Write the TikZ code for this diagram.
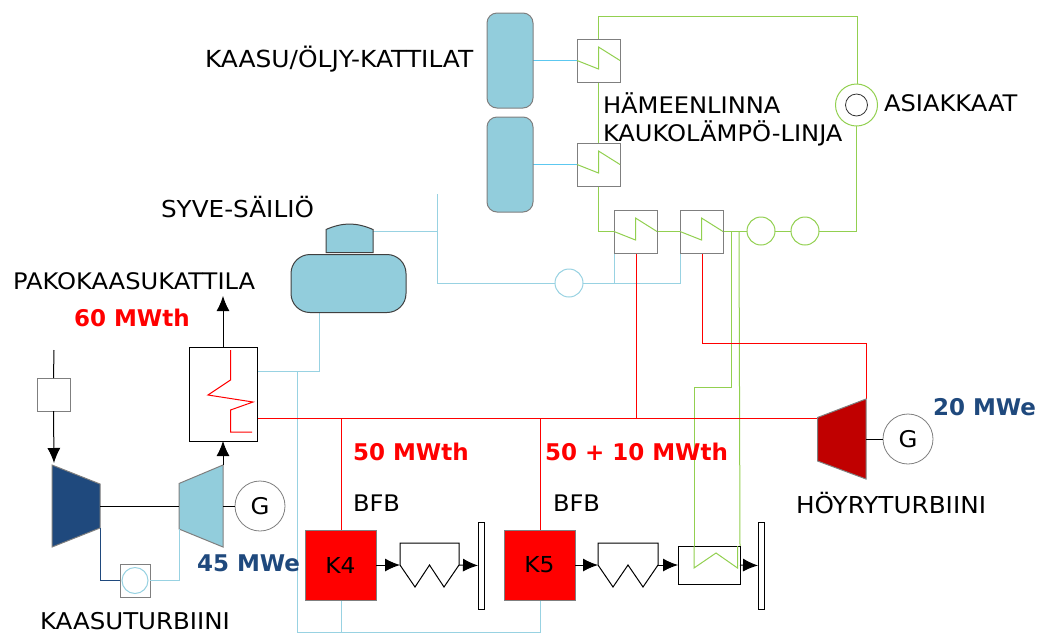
\documentclass[tikz,border=0pt]{standalone}
\usepackage{fontspec}
\setmainfont{DejaVu Sans}[FakeStretch=1.06]
\newfontfamily\lblbold{DejaVu Sans Bold}
\usetikzlibrary{arrows.meta,calc}
\definecolor{tankblue}{HTML}{92CDDC}
\definecolor{pipeblue}{HTML}{98D2E2}
\definecolor{brightblue}{HTML}{5CC8F0}
\definecolor{pipegreen}{HTML}{92D050}
\definecolor{navy}{HTML}{1F497D}
\definecolor{steam}{HTML}{FF0000}
\definecolor{darkred}{HTML}{C00000}
\definecolor{edge}{HTML}{7F7F7F}
\definecolor{darkedge}{HTML}{404040}
\tikzset{
 every node/.style={inner sep=0pt,outer sep=0pt},
 lbl/.style={anchor=west,font=\fontsize{22.8}{26}\selectfont,text=black},
 redlbl/.style={anchor=west,font=\fontsize{23}{26}\lblbold,text=steam},
 bluelbl/.style={anchor=west,font=\fontsize{23}{26}\lblbold,text=navy},
 hxbox/.style={draw=edge,line width=1pt,fill=white,minimum width=43pt,minimum height=43pt},
 gen/.style={circle,draw=edge,line width=.8pt,fill=white,minimum size=50pt,font=\fontsize{23}{28}\selectfont},
 tank/.style={draw=edge,line width=1pt,fill=tankblue,rounded corners=10pt,minimum width=46pt,minimum height=95pt},
 boiler/.style={draw=edge,line width=1pt,fill=steam,minimum width=71pt,minimum height=70pt,font=\fontsize{22}{28}\selectfont},
 gpipe/.style={draw=pipegreen,line width=1pt},
 bpipe/.style={draw=pipeblue,line width=1pt},
 rpipe/.style={draw=steam,line width=1pt},
 zig/.style={draw=pipegreen,line width=1pt},
 pump/.style={circle,fill=white,line width=1pt},
 flow/.style={draw=black,line width=1pt,-{Latex[length=15pt,width=13pt]}},
 shaft/.style={draw=black,line width=1pt},
 bar/.style={draw=black,line width=1pt,fill=white,minimum width=6pt,minimum height=87pt},
}
\newcommand{\hxzig}[1]{\draw[zig] (#1.west) -- ++(21.5pt,-8.5pt) -- ++(0,22pt) -- (#1.east);}
\begin{document}
\begin{tikzpicture}[x=1pt,y=-1pt]
\useasboundingbox (0,0) rectangle (1045,633);
% --- coordinates
\coordinate (gtop1) at (598,16); \coordinate (gtop2) at (857,16);
\coordinate (gret) at (856,231);
\coordinate (bl1) at (437,194); \coordinate (bl2) at (437,283); \coordinate (bl3) at (437,231.5);
\coordinate (jA) at (614,283); \coordinate (jB) at (680,283);
\coordinate (mainL) at (258,418); \coordinate (j4) at (341,418); \coordinate (j5) at (540,418); \coordinate (j6) at (636,418);
\coordinate (rs1) at (702,343); \coordinate (rs2) at (866,343);
\coordinate (g1) at (731,231); \coordinate (g2) at (731,387); \coordinate (g3) at (694,387); \coordinate (g4) at (694,568);
\coordinate (g5) at (739,231); \coordinate (g6) at (737.5,568); \coordinate (g7) at (716,553);
\coordinate (bot1) at (297,632); \coordinate (bot2) at (540,632); \coordinate (bot3) at (341,632);
\coordinate (hr1) at (258,371); \coordinate (hr2) at (297,371); \coordinate (hr3) at (319,371); \coordinate (hr4) at (319,312);
\coordinate (fuel) at (54,350); \coordinate (stack) at (223,296);
% --- pipes behind
\draw[gpipe] (598,39) -- (gtop1) -- (gtop2) -- (857,84);
\draw[gpipe] (598,82) -- (598,143);
\draw[gpipe] (598,186) -- (598,231) -- (614,231);
\draw[gpipe] (657,231) -- (680,231);
\draw[gpipe] (723,231) -- (747,231);
\draw[gpipe] (775,231) -- (791,231);
\draw[gpipe] (819,231) -- (gret) -- (856,126);
\draw[gpipe] (g1) -- (g2) -- (g3) -- (g4);
\draw[gpipe] (g5) -- (740,546);
\draw[bpipe] (bl1) -- (bl2) -- (555,283);
\draw[bpipe] (bl3) -- (373,231.5);
\draw[bpipe] (583,283) -- (jB) -- (680,253);
\draw[bpipe] (jA) -- (614,253);
\draw[bpipe] (hr1) -- (hr3) -- (hr4);
\draw[bpipe] (hr2) -- (bot1) -- (bot2) -- (540,600);
\draw[bpipe] (341,600) -- (bot3);
\draw[rpipe] (mainL) -- (818,418);
\draw[rpipe] (j4) -- (341,530);
\draw[rpipe] (j5) -- (540,530);
\draw[rpipe] (j6) -- (636,253);
\draw[rpipe] (702,253) -- (rs1) -- (rs2) -- (866,399);
\draw[draw=brightblue,line width=1.8pt] (533,60.5) -- (577,60.5);
\draw[draw=brightblue,line width=1.8pt] (533,164.5) -- (577,164.5);
% --- tanks
\node[tank] (t1) at (510,60.5) {};
\node[tank] (t2) at (510,164.5) {};
\draw[draw=darkedge,line width=1pt,fill=tankblue] (326,252.5) -- (326,229.5) .. controls (334,226) and (342,224) .. (349.5,224) .. controls (357,224) and (365,226) .. (373,229.5) -- (373,252.5) -- cycle;
\node[draw=darkedge,line width=1pt,fill=tankblue,rounded corners=19pt,minimum width=115pt,minimum height=58pt] (store) at (348.5,283.5) {};
% --- heat exchangers
\node[hxbox] (hx1) at (598.5,60.5) {}; \hxzig{hx1}
\node[hxbox] (hx2) at (598.5,164.5) {}; \hxzig{hx2}
\node[hxbox] (hx3) at (635.5,231.5) {}; \hxzig{hx3}
\node[hxbox] (hx4) at (701.5,231.5) {}; \hxzig{hx4}
% --- pumps
\node[pump,draw=pipegreen,minimum size=42pt] (cust) at (856.5,105) {};
\node[circle,draw=black!80,line width=.8pt,minimum size=22pt] (custin) at (856.5,105) {};
\node[pump,draw=pipegreen,minimum size=28pt] (p1) at (761,231) {};
\node[pump,draw=pipegreen,minimum size=28pt] (p2) at (805,231) {};
\node[pump,draw=pipeblue,minimum size=28pt] (p3) at (569,283) {};
% --- steam turbine
\draw[draw=edge,line width=1pt,fill=darkred] (817.5,417.5) -- (866,399) -- (866,479) -- (817.5,461) -- cycle;
\node[gen] (G2) at (908,439) {G};
\draw[shaft] (866,439) -- (G2);
% --- HRSG
\node[draw=black,line width=1pt,fill=white,minimum width=68pt,minimum height=94pt] (hrsg) at (223,394) {};
\draw[rpipe] (230.5,350) -- (230.5,380) -- (208,395) -- (253,402) -- (230.5,410) -- (230.5,432) -- (252,432);
\draw[flow] (hrsg.north) -- (stack);
% --- gas turbine
\draw[draw=edge,line width=1pt,fill=navy] (52,465) -- (100,484) -- (100,528) -- (52,547) -- cycle;
\draw[draw=edge,line width=1pt,fill=tankblue] (179,483.5) -- (223,465) -- (223,547) -- (179,529) -- cycle;
\draw[shaft] (100,506) -- (179,506);
\draw[flow] (223,465) -- (hrsg.south);
\node[gen] (G1) at (260,506) {G};
\draw[shaft] (223,506) -- (G1);
\node[draw=edge,line width=1pt,fill=white,minimum size=33pt] (fbox) at (53.5,394.5) {};
\draw[draw=black,line width=1pt] (fuel) -- (fbox.north);
\draw[flow] (fbox.south) -- (54,463);
\node[draw=edge,line width=1pt,fill=white,minimum width=30pt,minimum height=33pt] (cc) at (135,580.5) {};
\node[circle,draw=pipeblue,line width=1pt,minimum size=26pt] (ccin) at (135,580.5) {};
\draw[draw=navy,line width=1pt] (100,528) -- (100,580.5) -- (cc.west);
\draw[bpipe] (cc.east) -- (179,580.5) -- (179,529);
% --- boilers
\node[boiler] (K4) at (340.5,565) {K4};
\node[boiler] (K5) at (539.5,565) {K5};
\draw[draw=black,line width=1pt,fill=white] (400,543) -- (459,543) -- (459,565) -- (444,587) -- (429.5,565) -- (415,587) -- (400,565) -- cycle;
\draw[draw=black,line width=1pt,fill=white] (598,543) -- (658,543) -- (658,565) -- (643,587) -- (628,565) -- (613,587) -- (598,565) -- cycle;
\node[draw=black,line width=1pt,fill=white,minimum width=62pt,minimum height=38pt] (eco) at (709,565) {};
\draw[zig] (694,546) -- (g4) -- (g7) -- (g6) -- (737.5,546);
\node[bar] (b1) at (481,565.5) {};
\node[bar] (b2) at (761,565.5) {};
\draw[flow] (K4.east) -- (400,565);
\draw[flow] (459,565) -- (b1.west);
\draw[flow] (K5.east) -- (598,565);
\draw[flow] (658,565) -- (eco.west);
\draw[flow] (eco.east) -- (b2.west);
% --- labels
\node[lbl,font=\fontsize{23.5}{26}\selectfont] (l1) at (205,59) {KAASU/ÖLJY-KATTILAT};
\node[lbl] (l2) at (603,103) {HÄMEENLINNA};
\node[lbl] (l3) at (603,133) {KAUKOLÄMPÖ-LINJA};
\node[lbl] (l4) at (884,103) {ASIAKKAAT};
\node[lbl,font=\fontsize{23.3}{26}\selectfont] (l5) at (161,207) {SYVE-SÄILIÖ};
\node[lbl] (l6) at (13,281) {PAKOKAASUKATTILA};
\node[redlbl] (l7) at (74,318) {60 MWth};
\node[redlbl] (l8) at (353,452) {50 MWth};
\node[redlbl] (l9) at (545,452) {50 + 10 MWth};
\node[lbl] (l10) at (353,503) {BFB};
\node[lbl] (l11) at (553,503) {BFB};
\node[lbl,font=\fontsize{23.3}{26}\selectfont] (l12) at (796,503) {HÖYRYTURBIINI};
\node[bluelbl] (l13) at (933,407) {20 MWe};
\node[bluelbl] (l14) at (197,563) {45 MWe};
\node[lbl,font=\fontsize{23.1}{26}\selectfont] (l15) at (40,621) {KAASUTURBIINI};
\end{tikzpicture}
\end{document}
